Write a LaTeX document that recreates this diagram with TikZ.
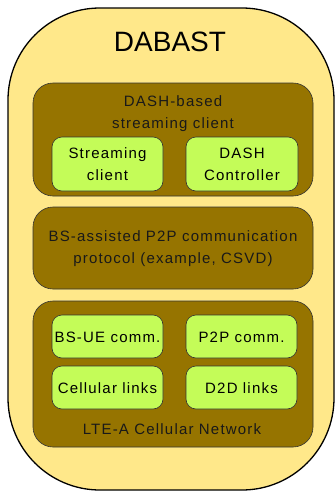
\documentclass[tikz,border=0pt]{standalone}
\usepackage{fontspec}
\setmainfont{Liberation Sans}
\newfontfamily\lblfont[LetterSpace=8]{Liberation Sans}
\definecolor{outerfill}{RGB}{255,232,138}
\definecolor{layerfill}{RGB}{150,116,0}
\definecolor{modfill}{RGB}{196,252,88}
\tikzset{
  layer/.style={draw=black!80, fill=layerfill, rounded corners=20pt, line width=0.6pt},
  module/.style={draw=black!80, fill=modfill, rounded corners=10pt, line width=0.6pt,
    align=center, font=\lblfont\fontsize{15}{22}\selectfont, inner sep=0pt},
  label/.style={align=center, font=\lblfont\fontsize{15}{22}\selectfont, text=black!90}
}
\begin{document}
\begin{tikzpicture}[x=1pt,y=-1pt]
\useasboundingbox (0,0) rectangle (335,491);
% outer system boundary
\draw[fill=outerfill, line width=1.3pt, rounded corners=92pt] (8,8) rectangle (334,490);
\node[font=\fontsize{28}{32}\selectfont] (title) at (170,42) {DABAST};
% streaming client layer
\draw[layer] (33,83) rectangle (313,196);
\node[label] (dash) at (173,114) {DASH-based\\streaming client};
\draw[module] (52,137) rectangle (163,191);
\node[module, draw=none, fill=none] (sc) at (107.5,164) {Streaming\\client};
\draw[module] (186,137) rectangle (298,191);
\node[module, draw=none, fill=none] (dc) at (242,164) {DASH\\Controller};
% protocol layer
\draw[layer] (33,207) rectangle (313,289);
\node[label] (proto) at (173,249) {BS-assisted P2P communication\\protocol (example, CSVD)};
% network layer
\draw[layer] (33,301) rectangle (313,447);
\draw[module] (52,315) rectangle (163,358);
\node[module, draw=none, fill=none] (bsue) at (107.5,337) {BS-UE comm.};
\draw[module] (186,315) rectangle (297,358);
\node[module, draw=none, fill=none] (p2p) at (241.5,337) {P2P comm.};
\draw[module] (52,366) rectangle (163,409);
\node[module, draw=none, fill=none] (cell) at (107.5,388) {Cellular links};
\draw[module] (186,366) rectangle (297,409);
\node[module, draw=none, fill=none] (d2d) at (241.5,388) {D2D links};
\node[label] (lte) at (172,429) {LTE-A Cellular Network};
\end{tikzpicture}
\end{document}
